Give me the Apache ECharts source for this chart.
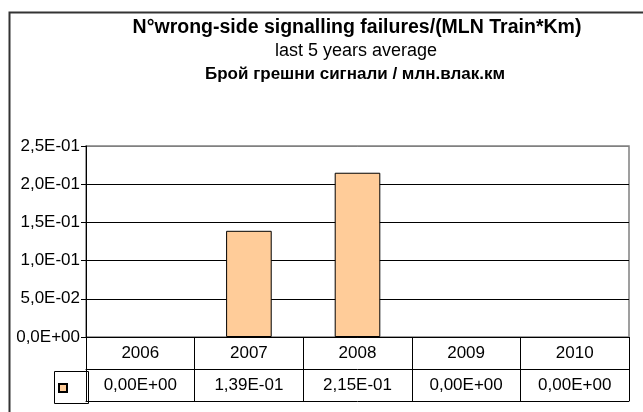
<!DOCTYPE html>
<html>
<head>
<meta charset="utf-8">
<script src="https://cdn.jsdelivr.net/npm/echarts@6/dist/echarts.min.js"></script>
<style>
  html, body { margin: 0; padding: 0; background: #fff; }
  #chart { width: 643px; height: 412px; }
</style>
</head>
<body>
<div id="chart"></div>
<script>
var years = ["2006", "2007", "2008", "2009", "2010"];
var failures = [0, 0.139, 0.215, 0, 0];
var yTicks = { min: 0, max: 0.25, step: 0.05 };
var titleLines = [
  "N°wrong-side signalling failures/(MLN Train*Km)",
  "last 5 years average",
  "Брой грешни сигнали / млн.влак.км"
];

// 1.39e-1 -> "1,39E-01"
function sci(v, digits) {
  var s = v.toExponential(digits);
  var parts = s.split("e");
  var mant = parts[0].replace(".", ",");
  var ex = parseInt(parts[1], 10);
  var sign = ex < 0 ? "-" : "+";
  ex = Math.abs(ex);
  return mant + "E" + sign + (ex < 10 ? "0" + ex : ex);
}

var font = "Liberation Sans, Arial, sans-serif";
var chart = echarts.init(document.getElementById("chart"));

var option = {
  animation: false,
  textStyle: { fontFamily: font },
  grid: {
    left: 86, right: 14, top: 146, bottom: 75,
    show: true, borderColor: "#808080", borderWidth: 1.5, backgroundColor: "#fff"
  },
  legend: {
    left: 53, top: 378,
    itemWidth: 8, itemHeight: 8, icon: "rect",
    formatter: function () { return ""; },
    data: ["failures"]
  },
  graphic: [
    { type: "rect", left: 7, top: 10, shape: { width: 700, height: 500 },
      style: { fill: null, stroke: "#333", lineWidth: 2 }, silent: true },
    { type: "rect", left: 52, top: 369, shape: { width: 34, height: 32 },
      style: { fill: null, stroke: "#000", lineWidth: 1 }, silent: true },
    { type: "text", x: 357, y: 28, style: { text: titleLines[0], textAlign: "center",
      textVerticalAlign: "middle", font: "bold 19.5px " + font, fill: "#000" } },
    { type: "text", x: 356, y: 51, style: { text: titleLines[1], textAlign: "center",
      textVerticalAlign: "middle", font: "18px " + font, fill: "#000" } },
    { type: "text", x: 355, y: 74, style: { text: titleLines[2], textAlign: "center",
      textVerticalAlign: "middle", font: "bold 17px " + font, fill: "#000" } }
  ],
  xAxis: [
    {
      type: "category", data: years, position: "bottom",
      axisLine: { lineStyle: { color: "#000", width: 1 } },
      axisTick: { show: true, length: 32, interval: 0, lineStyle: { color: "#000" } },
      axisLabel: { margin: 8, fontSize: 17, color: "#000", interval: 0 },
      splitLine: { show: false }
    },
    {
      type: "category", data: years, position: "bottom", offset: 32,
      axisLine: { lineStyle: { color: "#000", width: 1 } },
      axisTick: { show: true, length: 32, interval: 0, lineStyle: { color: "#000" } },
      axisLabel: {
        margin: 8, fontSize: 17, color: "#000", interval: 0,
        formatter: function (v, i) { return sci(failures[i], 2); }
      },
      splitLine: { show: false }
    },
    {
      type: "category", data: years, position: "bottom", offset: 64,
      axisLine: { lineStyle: { color: "#000", width: 1 } },
      axisTick: { show: false }, axisLabel: { show: false }, splitLine: { show: false }
    }
  ],
  yAxis: {
    type: "value", min: yTicks.min, max: yTicks.max, interval: yTicks.step,
    axisLine: { show: true, lineStyle: { color: "#000" } },
    axisTick: { show: true, length: 5, lineStyle: { color: "#000" } },
    axisLabel: {
      margin: 6, fontSize: 17, color: "#000",
      formatter: function (v) { return sci(v, 1); }
    },
    splitLine: { lineStyle: { color: ["#000", "#000", "#000", "#000", "#000", "#808080"] } }
  },
  series: [
    {
      name: "failures",
      type: "bar",
      xAxisIndex: 0,
      barWidth: "42%",
      itemStyle: { color: "#FFCC99", borderColor: "#000", borderWidth: 1 },
      // zero values leave no visible bar in the reference
      data: failures.map(function (v) { return v === 0 ? "-" : v; })
    }
  ]
};

chart.setOption(option);
</script>
</body>
</html>
